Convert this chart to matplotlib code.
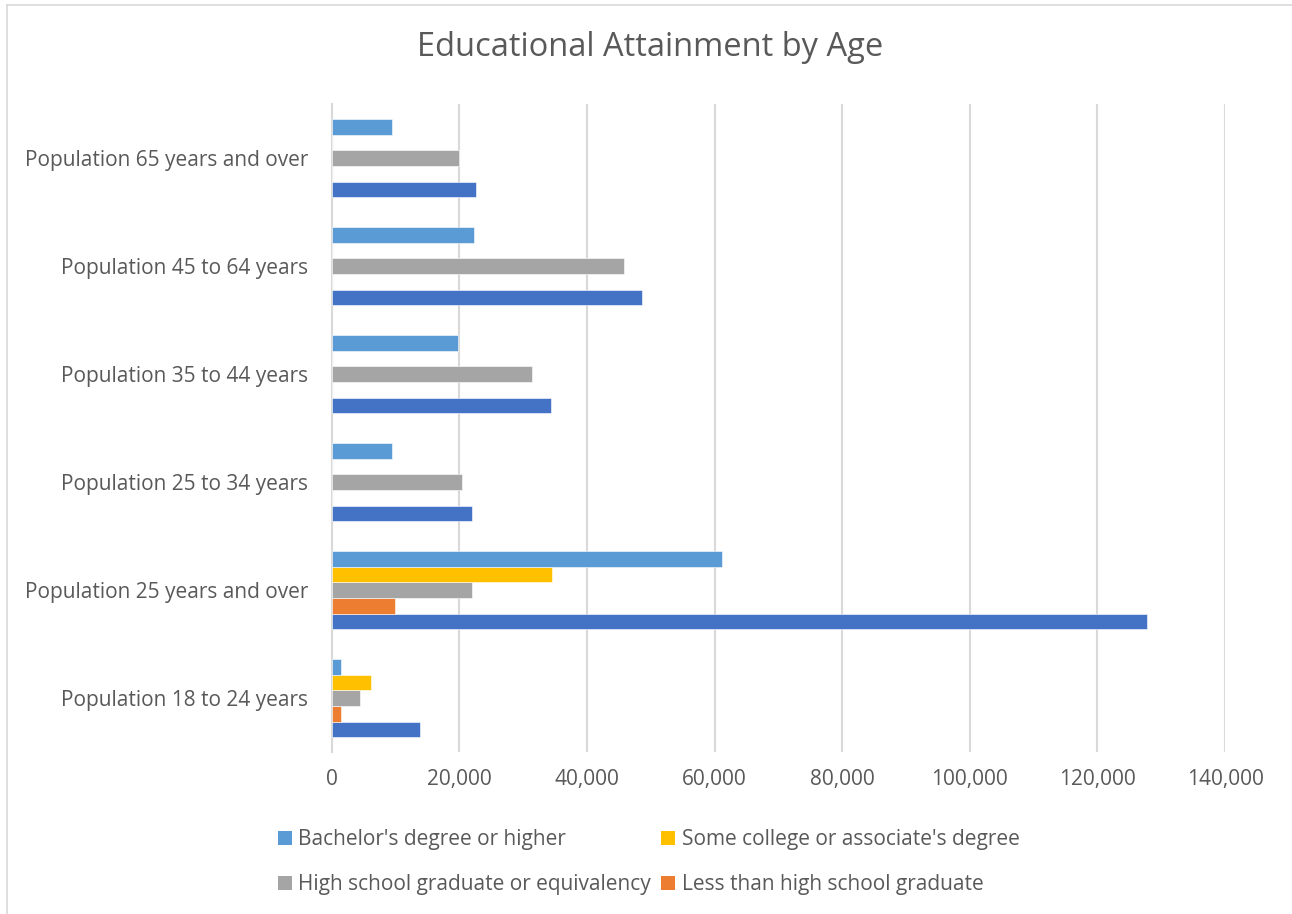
import matplotlib.pyplot as plt
import numpy as np
from matplotlib.patches import Patch
from matplotlib.lines import Line2D

groups = ["Population 18 to 24 years", "Population 25 years and over",
          "Population 25 to 34 years", "Population 35 to 44 years",
          "Population 45 to 64 years", "Population 65 years and over"]

# bottom bar of each group first
total = [13800, 127800, 22050, 34300, 48700, 22550]
less_hs = [1400, 9870, 0, 0, 0, 0]
hs_grad = [4500, 22050, 20400, 31450, 45800, 20000]
some_college = [6100, 34500, 0, 0, 0, 0]
bachelors = [1500, 61200, 9450, 19800, 22350, 9400]

series = [
    ("Total", total, "#4472C4"),
    ("Less than high school graduate", less_hs, "#ED7D31"),
    ("High school graduate or equivalency", hs_grad, "#A5A5A5"),
    ("Some college or associate's degree", some_college, "#FFC000"),
    ("Bachelor's degree or higher", bachelors, "#5B9BD5"),
]

plt.rcParams['font.family'] = ['Open Sans', 'DejaVu Sans']
text_col = "#595959"

fig = plt.figure(figsize=(12.92, 9.14), dpi=100)
ax = fig.add_axes([0.2567, 0.1772, 0.6915, 0.709])

y = np.arange(len(groups))
h = 0.145
for i, (name, vals, col) in enumerate(series):
    ax.barh(y + (i - 2) * h, vals, height=h, color=col, edgecolor="white",
            linewidth=0.4, zorder=3)

ax.set_xlim(0, 140000)
ax.set_ylim(-0.5, 5.5)
ax.set_xticks(np.arange(0, 140001, 20000))
ax.set_xticklabels([f"{v:,}" for v in range(0, 140001, 20000)])
ax.set_yticks(y)
ax.set_yticklabels(groups)
ax.tick_params(axis="x", length=0, pad=12.5, labelsize=15, labelcolor=text_col)
ax.tick_params(axis="y", length=0, pad=17, labelsize=15, labelcolor=text_col)
ax.grid(axis="x", color="#D9D9D9", linewidth=1.5, zorder=0)
for s in ["top", "right", "bottom"]:
    ax.spines[s].set_visible(False)
ax.spines["left"].set_color("#D9D9D9")
ax.spines["left"].set_linewidth(1.5)

fig.text(0.503, 0.9475, "Educational Attainment by Age", ha="center", va="center",
         fontsize=23.5, color=text_col)

# column-first fill, so this gives rows: Bachelor's | Some college, HS | Less than HS
legend_order = [4, 2, 3, 1]
handles = [Patch(facecolor=series[i][2], label=series[i][0]) for i in legend_order]
fig.legend(handles=handles, ncol=2, loc="upper left",
           bbox_to_anchor=(278 / 1292, 1 - 829 / 914), frameon=False, fontsize=15,
           labelcolor=text_col, handlelength=0.67, handleheight=0.67,
           handletextpad=0.3, columnspacing=0.5, labelspacing=1.15,
           borderpad=0, borderaxespad=0)

# chart border (only left and top edges fall inside the image)
bx, by = 7 / 1292, 1 - 5 / 914
fig.add_artist(Line2D([bx, bx], [0, by], transform=fig.transFigure,
                      color="#D9D9D9", linewidth=1.2))
fig.add_artist(Line2D([bx, 1], [by, by], transform=fig.transFigure,
                      color="#D9D9D9", linewidth=1.2))

fig.savefig("out.png", dpi=100)
